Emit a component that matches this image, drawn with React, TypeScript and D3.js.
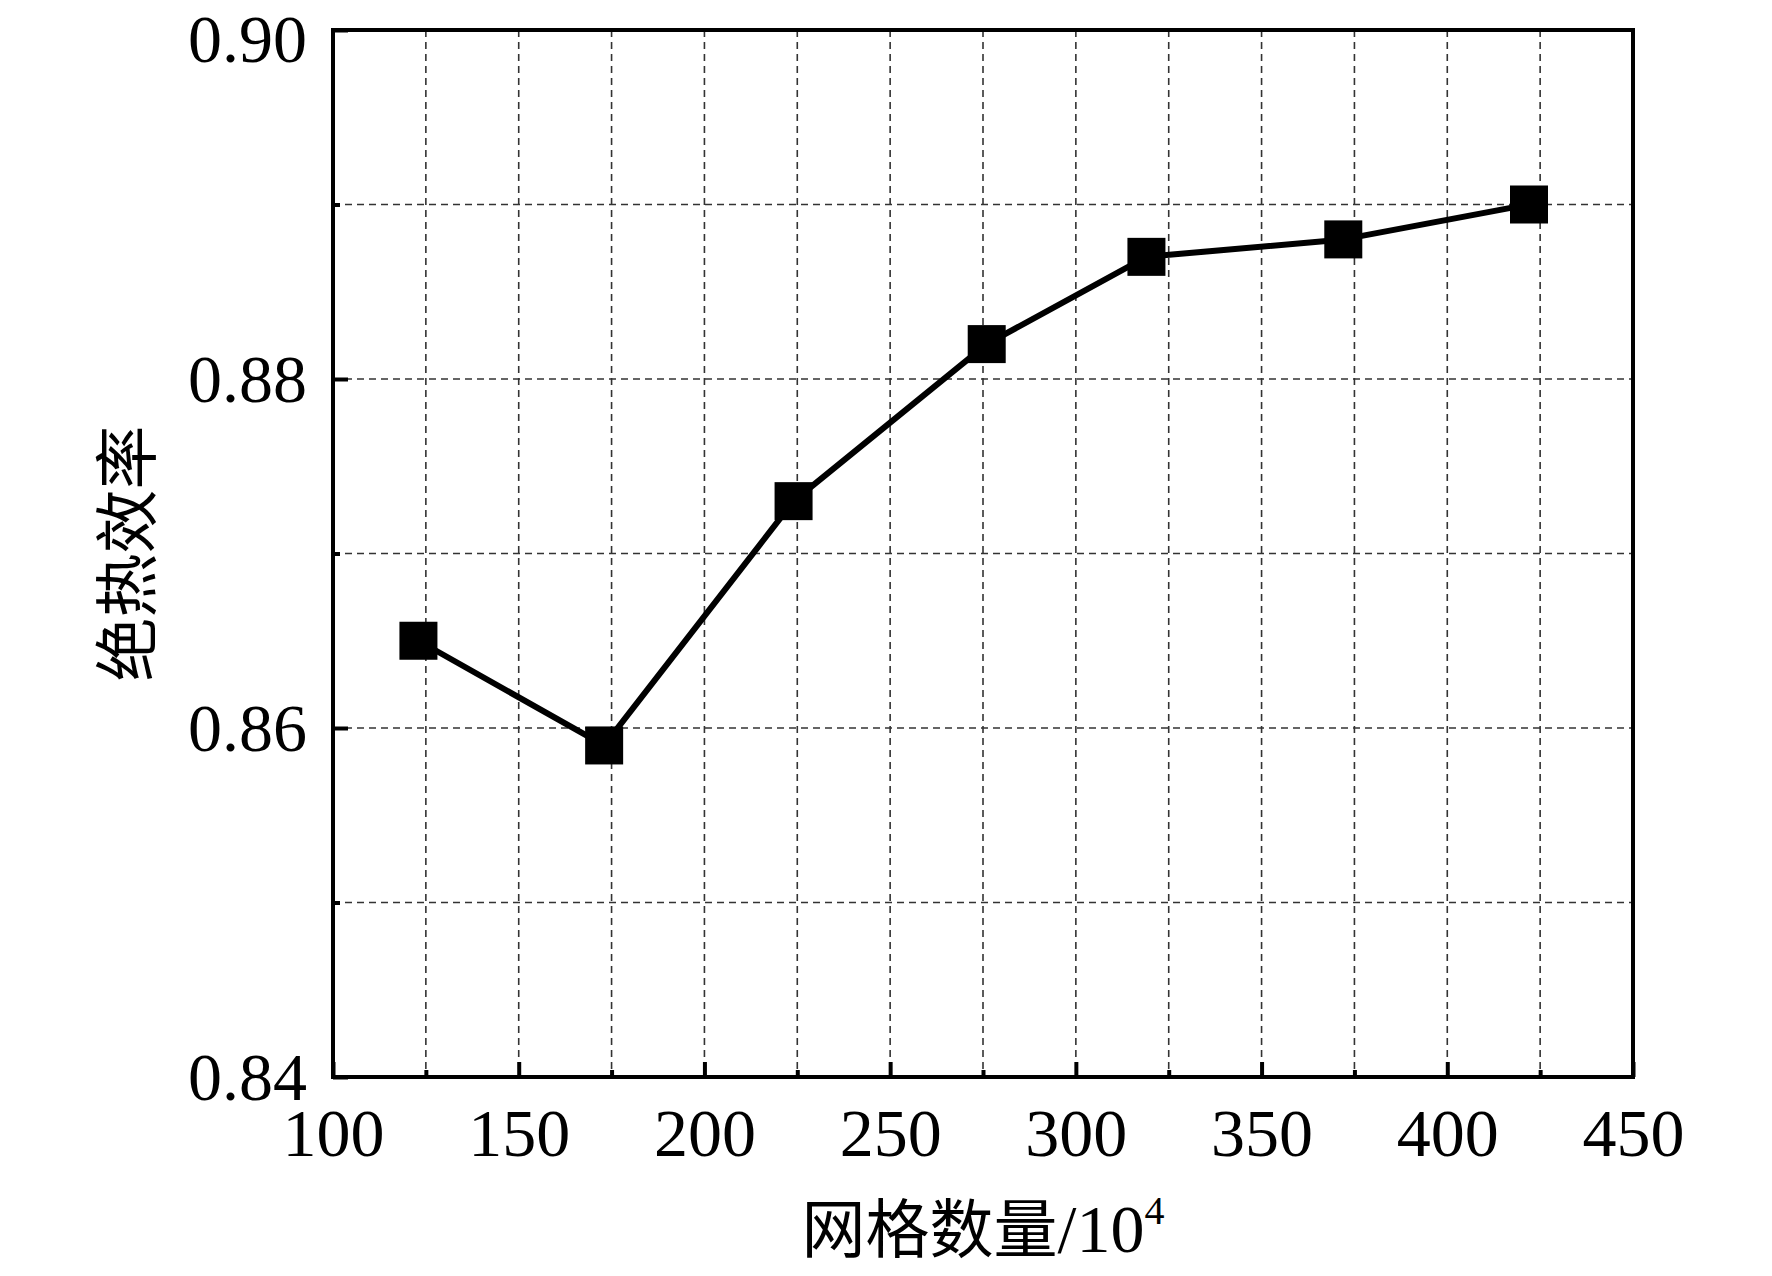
import React, { useEffect, useRef } from "react";
import * as d3 from "d3";

// mesh count (x10^4) and adiabatic efficiency
const meshCounts = [123, 173, 224, 276, 319, 372, 422];
const efficiency = [0.865, 0.859, 0.873, 0.882, 0.887, 0.888, 0.89];

const xMajorTicks = [100, 150, 200, 250, 300, 350, 400, 450];
const xMinorTicks = [125, 175, 225, 275, 325, 375, 425];
const yMajorTicks = [0.84, 0.86, 0.88, 0.9];
const yMinorTicks = [0.85, 0.87, 0.89];

const xTitle = "网格数量";
const yTitle = "绝热效率";

const W = 1772;
const H = 1276;
const margin = { top: 30, right: 139, bottom: 199, left: 333 };

const App: React.FC = () => {
  const svgRef = useRef<SVGSVGElement>(null);

  useEffect(() => {
    if (!svgRef.current) return;
    const svg = d3.select(svgRef.current);
    svg.selectAll("*").remove();

    const innerW = W - margin.left - margin.right;
    const innerH = H - margin.top - margin.bottom;

    const x = d3.scaleLinear().domain([100, 450]).range([0, innerW]);
    const y = d3.scaleLinear().domain([0.84, 0.9]).range([innerH, 0]);

    const g = svg.append("g").attr("transform", `translate(${margin.left},${margin.top})`);

    // dashed grid
    const grid = g.append("g").attr("stroke", "#333").attr("stroke-width", 1.6).attr("stroke-dasharray", "7,5");
    grid
      .selectAll(".vg")
      .data([...xMajorTicks, ...xMinorTicks].filter((d) => d > 100 && d < 450))
      .enter()
      .append("line")
      .attr("x1", (d) => x(d))
      .attr("x2", (d) => x(d))
      .attr("y1", 0)
      .attr("y2", innerH);
    grid
      .selectAll(".hg")
      .data([...yMajorTicks, ...yMinorTicks].filter((d) => d > 0.84 && d < 0.9))
      .enter()
      .append("line")
      .attr("x1", 0)
      .attr("x2", innerW)
      .attr("y1", (d) => y(d))
      .attr("y2", (d) => y(d));

    // axes: inward ticks
    const xAxis = g
      .append("g")
      .attr("transform", `translate(0,${innerH})`)
      .call(d3.axisBottom(x).tickValues(xMajorTicks).tickSize(-15).tickFormat(d3.format("d")));
    g.append("g")
      .attr("transform", `translate(0,${innerH})`)
      .call(d3.axisBottom(x).tickValues(xMinorTicks).tickSize(-7).tickFormat(() => ""))
      .call((a) => a.select(".domain").remove());
    const yAxis = g
      .append("g")
      .call(d3.axisLeft(y).tickValues(yMajorTicks).tickSize(-15).tickFormat(d3.format(".2f")));
    g.append("g")
      .call(d3.axisLeft(y).tickValues(yMinorTicks).tickSize(-7).tickFormat(() => ""))
      .call((a) => a.select(".domain").remove());

    g.selectAll(".tick line").attr("stroke", "#000").attr("stroke-width", 4);
    g.selectAll(".domain").remove();

    xAxis
      .selectAll(".tick text")
      .attr("font-family", "'Liberation Serif', 'Times New Roman', serif")
      .attr("font-size", 68)
      .attr("fill", "#000")
      .attr("y", 79)
      .attr("dy", 0);
    yAxis
      .selectAll<SVGTextElement, number>(".tick text")
      .attr("font-family", "'Liberation Serif', 'Times New Roman', serif")
      .attr("font-size", 68)
      .attr("fill", "#000")
      .attr("x", -26)
      // top label nudged down so it stays inside the picture
      .attr("dy", (d) => (d === 0.9 ? 31 : 22.5));

    // frame
    g.append("rect")
      .attr("width", innerW)
      .attr("height", innerH)
      .attr("fill", "none")
      .attr("stroke", "#000")
      .attr("stroke-width", 4);

    // series
    const line = d3
      .line<number>()
      .x((_, i) => x(meshCounts[i]))
      .y((d) => y(d));
    g.append("path")
      .datum(efficiency)
      .attr("d", line)
      .attr("fill", "none")
      .attr("stroke", "#000")
      .attr("stroke-width", 6)
      .attr("stroke-linejoin", "round");

    const s = 38;
    g.selectAll(".pt")
      .data(efficiency)
      .enter()
      .append("rect")
      .attr("x", (_, i) => x(meshCounts[i]) - s / 2)
      .attr("y", (d) => y(d) - s / 2)
      .attr("width", s)
      .attr("height", s)
      .attr("fill", "#000");

    // axis titles
    const xt = svg
      .append("text")
      .attr("x", margin.left + innerW / 2)
      .attr("y", 1252)
      .attr("text-anchor", "middle")
      .attr("font-size", 64)
      .attr("fill", "#000");
    xt.append("tspan").attr("font-family", "'Noto Sans CJK SC', sans-serif").text(xTitle);
    xt.append("tspan").attr("font-family", "'Liberation Serif', serif").attr("font-size", 68).text("/10");
    xt.append("tspan")
      .attr("font-family", "'Liberation Serif', serif")
      .attr("font-size", 40)
      .attr("dy", -28)
      .text("4");

    svg
      .append("text")
      .attr("transform", `translate(122,${margin.top + innerH / 2}) rotate(-90)`)
      .attr("text-anchor", "middle")
      .attr("dominant-baseline", "central")
      .attr("font-family", "'Noto Sans CJK SC', sans-serif")
      .attr("font-size", 64)
      .attr("fill", "#000")
      .text(yTitle);
  }, []);

  return (
    <div style={{ position: "absolute", left: 0, top: 0 }}>
      <svg ref={svgRef} width={W} height={H} style={{ display: "block", background: "#fff" }} />
    </div>
  );
};

export default App;
